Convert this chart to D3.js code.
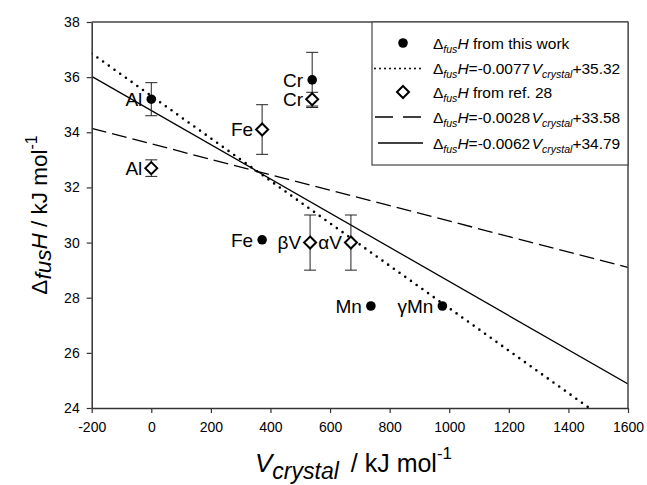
<!DOCTYPE html>
<html>
<head>
<meta charset="utf-8">
<script src="https://cdn.jsdelivr.net/npm/d3@7"></script>
<style>
  body { margin: 0; background: #fff; }
  svg text { font-family: "Liberation Sans", Arial, sans-serif; fill: #000; }
</style>
</head>
<body>
<div id="chart"></div>
<script>
// values
var workX = [0, 540, 372, 737, 977];
var workY = [35.2, 35.9, 30.1, 27.7, 27.7];
var workErr = [0.6, 1.0, 0, 0, 0];
var workLabels = ["Al", "Cr", "Fe", "Mn", "\u03b3Mn"];

var refX = [0, 540, 372, 533, 670];
var refY = [32.7, 35.2, 34.1, 30.0, 30.0];
var refErr = [0.3, 0.25, 0.9, 1.0, 1.0];
var refLabels = ["Al", "Cr", "Fe", "\u03b2V", "\u03b1V"];

// fits: slope, intercept
var fitSlopes = [-0.0077, -0.0028, -0.0062];
var fitIntercepts = [35.32, 33.58, 34.79];
var fitNames = ["dotted", "dashed", "solid"];

var xTicks = [-200, 0, 200, 400, 600, 800, 1000, 1200, 1400, 1600];
var yTicks = [24, 26, 28, 30, 32, 34, 36, 38];

var W = 647, H = 485;
var m = {left: 91.7, right: 19, top: 22, bottom: 77};

var svg = d3.select("#chart").append("svg").attr("width", W).attr("height", H);

var x = d3.scaleLinear().domain([-200, 1600]).range([m.left, W - m.right]);
var y = d3.scaleLinear().domain([24, 38]).range([H - m.bottom, m.top]);

svg.append("defs").append("clipPath").attr("id", "plotclip")
  .append("rect").attr("x", x(-200)).attr("y", y(38)).attr("width", x(1600) - x(-200)).attr("height", y(24) - y(38));

var dashes = {dotted: "0,7", dashed: "15,6", solid: null};

// fit lines
var g = svg.append("g").attr("clip-path", "url(#plotclip)");
fitSlopes.forEach(function(s, i) {
  var x0 = -200, x1 = 1600;
  g.append("line")
    .attr("x1", x(x0)).attr("y1", y(s * x0 + fitIntercepts[i]))
    .attr("x2", x(x1)).attr("y2", y(s * x1 + fitIntercepts[i]))
    .attr("stroke", "#000")
    .attr("stroke-width", fitNames[i] == "dotted" ? 2.6 : 1.3)
    .attr("stroke-linecap", fitNames[i] == "dotted" ? "round" : "butt")
    .attr("stroke-dasharray", dashes[fitNames[i]]);
});

// frame
svg.append("line").attr("x1", x(-200)).attr("x2", x(1600)).attr("y1", y(38)).attr("y2", y(38))
  .attr("stroke", "#444").attr("stroke-width", 1.5);
svg.append("line").attr("x1", x(1600)).attr("x2", x(1600)).attr("y1", y(38)).attr("y2", y(24))
  .attr("stroke", "#444").attr("stroke-width", 1.5);

var fmt = function(d) { return String(d); };
var xAxis = svg.append("g").attr("transform", "translate(0," + y(24) + ")")
  .call(d3.axisBottom(x).tickValues(xTicks).tickFormat(fmt).tickSize(5).tickPadding(9).tickSizeOuter(0));
var yAxis = svg.append("g").attr("transform", "translate(" + x(-200) + ",0)")
  .call(d3.axisLeft(y).tickValues(yTicks).tickFormat(fmt).tickSize(5).tickPadding(7).tickSizeOuter(0));
[xAxis, yAxis].forEach(function(a) {
  a.selectAll("path").attr("stroke", "#333").attr("stroke-width", 1.5);
  a.selectAll("line").attr("stroke", "#333").attr("stroke-width", 1.2);
  a.selectAll("text").attr("font-size", 14).attr("font-family", "Liberation Sans, Arial, sans-serif").attr("fill", "#000");
});

// error bars
function errorBars(xs, ys, es) {
  xs.forEach(function(v, i) {
    if (!es[i]) return;
    var px = x(v), top = y(ys[i] + es[i]), bot = y(ys[i] - es[i]);
    svg.append("line").attr("x1", px).attr("x2", px).attr("y1", top).attr("y2", bot).attr("stroke", "#222").attr("stroke-width", 1);
    [top, bot].forEach(function(py) {
      svg.append("line").attr("x1", px - 6).attr("x2", px + 6).attr("y1", py).attr("y2", py).attr("stroke", "#222").attr("stroke-width", 1);
    });
  });
}
errorBars(workX, workY, workErr);
errorBars(refX, refY, refErr);

function diamond(sel, cx, cy, r) {
  return sel.append("path")
    .attr("d", "M" + cx + "," + (cy - r) + "L" + (cx + r) + "," + cy + "L" + cx + "," + (cy + r) + "L" + (cx - r) + "," + cy + "Z")
    .attr("fill", "#fff").attr("stroke", "#000").attr("stroke-width", 2);
}

workX.forEach(function(v, i) {
  svg.append("circle").attr("cx", x(v)).attr("cy", y(workY[i])).attr("r", 4.8).attr("fill", "#000");
  svg.append("text").attr("x", x(v) - 9).attr("y", y(workY[i])).attr("dy", "0.36em")
    .attr("text-anchor", "end").attr("font-size", 19).text(workLabels[i]);
});
refX.forEach(function(v, i) {
  diamond(svg, x(v), y(refY[i]), 6);
  svg.append("text").attr("x", x(v) - 9).attr("y", y(refY[i])).attr("dy", "0.36em")
    .attr("text-anchor", "end").attr("font-size", 19).text(refLabels[i]);
});

// axis titles
var xt = svg.append("text").attr("x", 255).attr("y", 472).attr("font-size", 25);
xt.append("tspan").attr("font-style", "italic").attr("font-size", 26).text("V");
xt.append("tspan").attr("font-style", "italic").attr("font-size", 23).attr("dy", 7).text("crystal");
xt.append("tspan").attr("dy", -7).attr("dx", 12).text("/ kJ mol");
xt.append("tspan").attr("font-size", 17).attr("dy", -13).text("-1");

var yt = svg.append("text").attr("transform", "translate(47," + ((y(24) + y(38)) / 2) + ") rotate(-90)")
  .attr("text-anchor", "middle").attr("font-size", 22.5);
yt.append("tspan").text("\u0394");
yt.append("tspan").attr("font-style", "italic").attr("dy", 4).text("fus");
yt.append("tspan").attr("font-style", "italic").attr("dy", -4).text("H");
yt.append("tspan").text(" / kJ mol");
yt.append("tspan").attr("font-size", 16).attr("dy", -10).text("-1");

// legend
var lg = svg.append("g");
lg.append("rect").attr("x", 372).attr("y", y(38)).attr("width", x(1600) - 372).attr("height", 143)
  .attr("fill", "#fff").attr("stroke", "#444").attr("stroke-width", 1.2);

var legendRows = [
  {kind: "circle"}, {kind: "dotted", i: 0}, {kind: "diamond"}, {kind: "dashed", i: 1}, {kind: "solid", i: 2}
];
var rowY = [43, 68.5, 92, 117, 143];
var sx = 403, tx = 433;

function deltaFus(t) {
  t.append("tspan").text("\u0394");
  t.append("tspan").attr("font-style", "italic").attr("font-size", 10.5).attr("dy", 4).text("fus");
  t.append("tspan").attr("font-style", "italic").attr("dy", -4).text("H");
}

legendRows.forEach(function(r, k) {
  var ry = rowY[k];
  if (r.kind == "circle") {
    lg.append("circle").attr("cx", sx).attr("cy", ry).attr("r", 4.8).attr("fill", "#000");
  } else if (r.kind == "diamond") {
    diamond(lg, sx, ry, 6);
  } else {
    lg.append("line").attr("x1", r.kind == "solid" ? 378 : 375).attr("x2", 423).attr("y1", ry).attr("y2", ry)
      .attr("stroke", "#000")
      .attr("stroke-width", r.kind == "dotted" ? 2 : 1.3)
      .attr("stroke-linecap", r.kind == "dotted" ? "round" : "butt")
      .attr("stroke-dasharray", r.kind == "dotted" ? "0,5" : (r.kind == "dashed" ? "18,10" : null));
  }
  var t = lg.append("text").attr("x", tx).attr("y", ry).attr("dy", "0.36em").attr("font-size", 15.5);
  deltaFus(t);
  if (r.kind == "circle") {
    t.append("tspan").text(" from this work");
  } else if (r.kind == "diamond") {
    t.append("tspan").text(" from ref. 28");
  } else {
    t.append("tspan").text("=" + fitSlopes[r.i]);
    t.append("tspan").attr("font-style", "italic").attr("dx", 1.5).text("V");
    t.append("tspan").attr("font-style", "italic").attr("font-size", 10.5).attr("dy", 4).text("crystal");
    t.append("tspan").attr("dy", -4).text("+" + fitIntercepts[r.i]);
  }
});
</script>
</body>
</html>
